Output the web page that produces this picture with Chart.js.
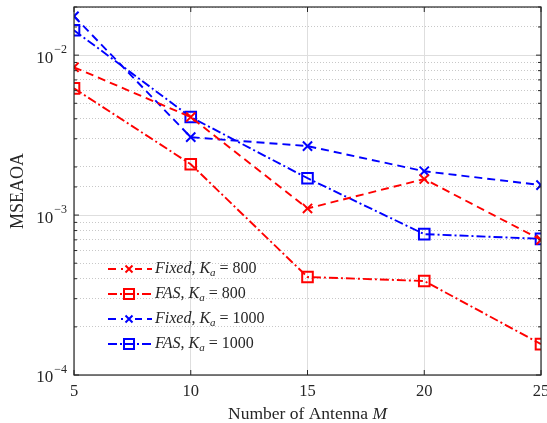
<!DOCTYPE html>
<html>
<head>
<meta charset="utf-8">
<script src="https://cdn.jsdelivr.net/npm/chart.js@4.4.0/dist/chart.umd.min.js"></script>
<style>
  html, body { margin: 0; padding: 0; background: #fff; }
  #wrap { width: 547px; height: 423px; position: relative; }
</style>
</head>
<body>
<div id="wrap"><canvas id="chart"></canvas></div>
<script>
// data
const antennas = [5, 10, 15, 20, 25];
const fixed800 = [8.4e-3, 4.1e-3, 1.1e-3, 1.68e-3, 7.0e-4];
const fas800 = [6.2e-3, 2.08e-3, 4.1e-4, 3.87e-4, 1.56e-4];
const fixed1000 = [1.75e-2, 3.07e-3, 2.7e-3, 1.88e-3, 1.54e-3];
const fas1000 = [1.43e-2, 4.1e-3, 1.7e-3, 7.6e-4, 7.1e-4];

const schemeNames = ['Fixed', 'FAS', 'Fixed', 'FAS'];
const kaValues = ['800', '800', '1000', '1000'];
const xTitle = ['Number of Antenna ', 'M'];
const yTitle = 'MSEAOA';
const xTicks = [5, 10, 15, 20, 25];
const yDecades = [-4, -3, -2];

const RED = '#ff0000';
const BLUE = '#0000ff';
const AXIS = '#262626';
const SERIF = '"Liberation Serif", "DejaVu Serif", serif';
const DASHED = [8, 5];
const DASHDOT = [9, 3, 2, 3];

const isDecade = v => Math.abs(Math.log10(v) - Math.round(Math.log10(v))) < 1e-6;

function series(data, color, dash, marker) {
    return {
        data: antennas.map((x, i) => ({ x: x, y: data[i] })),
        borderColor: color,
        backgroundColor: 'rgba(0,0,0,0)',
        borderWidth: 1.9,
        borderDash: dash,
        pointStyle: marker,
        pointRadius: marker === 'rect' ? 7.5 : 6.5,
        pointBorderWidth: 2,
        pointBorderColor: color,
        pointBackgroundColor: 'rgba(0,0,0,0)',
        tension: 0,
        fill: false
    };
}

// box, inward ticks, y labels, legend and titles drawn after the lines
const decorations = {
    id: 'decorations',
    afterDatasetsDraw(chart) {
        const ctx = chart.ctx;
        const a = chart.chartArea;
        const xs = chart.scales.x;
        const ys = chart.scales.y;
        ctx.save();
        ctx.strokeStyle = AXIS;
        ctx.lineWidth = 1.2;
        ctx.setLineDash([]);
        ctx.strokeRect(a.left, a.top, a.right - a.left, a.bottom - a.top);

        // ticks
        ctx.lineWidth = 1;
        ctx.beginPath();
        xTicks.forEach(v => {
            const px = xs.getPixelForValue(v);
            ctx.moveTo(px, a.bottom); ctx.lineTo(px, a.bottom - 5);
            ctx.moveTo(px, a.top); ctx.lineTo(px, a.top + 5);
        });
        ys.ticks.forEach(t => {
            const py = ys.getPixelForValue(t.value);
            if (py < a.top - 0.5 || py > a.bottom + 0.5) return;
            const len = isDecade(t.value) ? 5 : 3;
            ctx.moveTo(a.left, py); ctx.lineTo(a.left + len, py);
            ctx.moveTo(a.right, py); ctx.lineTo(a.right - len, py);
        });
        ctx.stroke();

        ctx.fillStyle = AXIS;
        ctx.textBaseline = 'middle';

        // y tick labels 10^n
        yDecades.forEach(n => {
            const py = ys.getPixelForValue(Math.pow(10, n));
            const exp = '\u2212' + Math.abs(n);
            ctx.font = '12px ' + SERIF;
            const we = ctx.measureText(exp).width;
            ctx.font = '17px ' + SERIF;
            const wb = ctx.measureText('10').width;
            const right = a.left - 7;
            ctx.fillText('10', right - we - wb - 1, py + 3);
            ctx.font = '12px ' + SERIF;
            ctx.fillText(exp, right - we, py - 5);
        });

        // y title
        ctx.save();
        ctx.translate(18, (a.top + a.bottom) / 2);
        ctx.rotate(-Math.PI / 2);
        ctx.textAlign = 'center';
        ctx.font = '18px ' + SERIF;
        ctx.fillText(yTitle, 0, 0);
        ctx.restore();

        // x title with italic M
        const fR = '17.5px ' + SERIF, fI = 'italic 17.5px ' + SERIF;
        ctx.font = fR; const w1 = ctx.measureText(xTitle[0]).width;
        ctx.font = fI; const w2 = ctx.measureText(xTitle[1]).width;
        const tx = (a.left + a.right) / 2 - (w1 + w2) / 2;
        const ty = 414;
        ctx.font = fR; ctx.fillText(xTitle[0], tx, ty);
        ctx.font = fI; ctx.fillText(xTitle[1], tx + w1, ty);

        // legend
        const rowY = [269, 294, 319, 344];
        chart.data.datasets.forEach((ds, i) => {
            const y = rowY[i];
            ctx.strokeStyle = ds.borderColor;
            ctx.lineWidth = 1.9;
            ctx.setLineDash(ds.borderDash);
            ctx.beginPath(); ctx.moveTo(108, y); ctx.lineTo(152, y); ctx.stroke();
            ctx.setLineDash([]);
            ctx.lineWidth = 2;
            const mx = 129;
            ctx.fillStyle = '#fff';
            ctx.beginPath();
            if (ds.pointStyle === 'rect') {
                ctx.fillRect(mx - 5, y - 5, 10, 10);
                ctx.strokeRect(mx - 5, y - 5, 10, 10);
                ctx.moveTo(mx - 5, y); ctx.lineTo(mx + 5, y);
                ctx.stroke();
            } else {
                ctx.fillRect(mx - 6, y - 2, 12, 4);
                ctx.moveTo(mx - 3.5, y - 3.5); ctx.lineTo(mx + 3.5, y + 3.5);
                ctx.moveTo(mx + 3.5, y - 3.5); ctx.lineTo(mx - 3.5, y + 3.5);
                ctx.stroke();
            }
            // label: name, K_a = value
            ctx.fillStyle = AXIS;
            let x = 155;
            const parts = [
                [schemeNames[i], 'italic 16px ' + SERIF, 0],
                [', ', '16px ' + SERIF, 0],
                ['K', 'italic 16px ' + SERIF, 0],
                ['a', 'italic 11px ' + SERIF, 4],
                [' = ' + kaValues[i], '16px ' + SERIF, 0]
            ];
            parts.forEach(p => {
                ctx.font = p[1];
                ctx.fillText(p[0], x, y + p[2]);
                x += ctx.measureText(p[0]).width;
            });
        });
        ctx.restore();
    }
};

new Chart(document.getElementById('chart').getContext('2d'), {
    type: 'line',
    data: {
        datasets: [
            series(fixed800, RED, DASHED, 'crossRot'),
            series(fas800, RED, DASHDOT, 'rect'),
            series(fixed1000, BLUE, DASHED, 'crossRot'),
            series(fas1000, BLUE, DASHDOT, 'rect')
        ]
    },
    options: {
        responsive: true,
        maintainAspectRatio: false,
        animation: false,
        layout: { autoPadding: false, padding: { top: 7, right: 6, left: 0, bottom: 0 } },
        plugins: { legend: { display: false }, tooltip: { enabled: false } },
        scales: {
            x: {
                type: 'linear',
                min: 5,
                max: 25,
                afterFit: s => { s.height = 48; s.paddingLeft = 0; s.paddingRight = 0; },
                ticks: {
                    stepSize: 5,
                    color: AXIS,
                    padding: 7,
                    font: { family: SERIF, size: 16.5 }
                },
                grid: { color: '#dedede', lineWidth: 1, drawTicks: false },
                border: { display: false }
            },
            y: {
                type: 'logarithmic',
                min: 1e-4,
                max: 2e-2,
                afterFit: s => { s.width = 74; s.paddingTop = 0; s.paddingBottom = 0; },
                ticks: { display: false, autoSkip: false },
                grid: {
                    drawTicks: false,
                    lineWidth: 1,
                    color: c => (c.tick && isDecade(c.tick.value)) ? '#dedede' : '#c8c8c8'
                },
                border: {
                    display: false,
                    dash: c => (c.tick && !isDecade(c.tick.value)) ? [1, 2] : []
                }
            }
        }
    },
    plugins: [decorations]
});
</script>
</body>
</html>
